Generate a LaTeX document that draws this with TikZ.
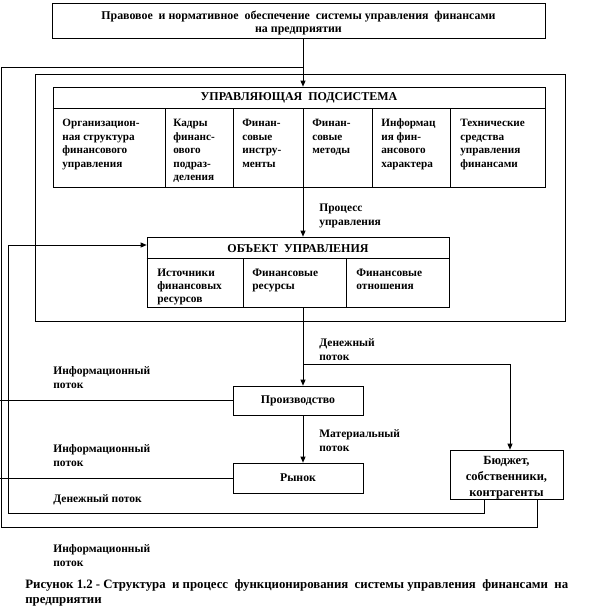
\documentclass[tikz,border=0pt]{standalone}
\usepackage{fontspec}
\setmainfont{Liberation Serif}
\usetikzlibrary{arrows.meta}
\begin{document}
\begin{tikzpicture}[x=1pt,y=-1pt,line width=0.7pt,
  txt/.style={font=\fontsize{11.2}{13.5}\selectfont\bfseries,inner sep=0pt,align=left,anchor=base west},
  otxt/.style={font=\fontsize{11.4}{13}\selectfont\bfseries,inner sep=0pt,align=left,anchor=base west},
  lbl/.style={font=\fontsize{11.5}{14.5}\selectfont\bfseries,inner sep=0pt,align=left,anchor=base west},
  box/.style={draw,inner sep=0pt,align=center,font=\fontsize{11.8}{13.5}\selectfont\bfseries},
  ctxt/.style={inner sep=0pt,align=center},
  head/.style={inner sep=0pt,font=\fontsize{12}{13.5}\selectfont\bfseries},
  frm/.style={draw,inner sep=0pt},
  arr/.style={-{Triangle[length=6pt,width=5pt]}}]
\fill[white] (0,0) rectangle (600,614);
\path[use as bounding box] (0,0) rectangle (600,614);
% helper coordinates
\coordinate (axis) at (303,0);
\coordinate (edge) at (0,0);
\coordinate (h1) at (0,108);
\coordinate (h2) at (0,258);
\coordinate (bx) at (510,0);
\coordinate (b1) at (484,0);
\coordinate (b2) at (537,0);
\coordinate (br) at (303,364);
\coordinate (i1) at (8,513);
\coordinate (i2) at (8,245);
\coordinate (o1) at (1,527);
\coordinate (o2) at (1,67);
% top box
\node[frm,minimum width=493pt,minimum height=35pt] (legal) at (298.5,20.5) {};
\node[ctxt,font=\fontsize{11.9}{13.5}\selectfont\bfseries] (legaltext) at (298.5,23)
  {Правовое\ \ и нормативное\ \ обеспечение\ \ системы управления\ \ финансами\\на предприятии};
% frame
\node[frm,minimum width=530pt,minimum height=247pt] (frame) at (300,197.5) {};
% subsystem
\node[frm,minimum width=492pt,minimum height=100pt] (sub) at (299,137) {};
\node[head] (subhead) at (299,98) {УПРАВЛЯЮЩАЯ\ \ ПОДСИСТЕМА};
\draw (sub.west |- h1) -- (sub.east |- h1);
\foreach \x in {165,233,303,372,450} \draw (\x,108) -- (\x,187);
\node[txt] (c1) at (62,167) {Организацион-\\ная структура\\финансового\\управления};
\node[txt] (c2) at (173,180.5) {Кадры\\финанс-\\ового\\подраз-\\деления};
\node[txt] (c3) at (242,167) {Финан-\\совые\\инстру-\\менты};
\node[txt] (c4) at (312,153.5) {Финан-\\совые\\методы};
\node[txt] (c5) at (381,167) {Информац\\ия фин-\\ансового\\характера};
\node[txt] (c6) at (460,167) {Технические\\средства\\управления\\финансами};
% object
\node[frm,minimum width=302pt,minimum height=70pt] (obj) at (298,272) {};
\node[head] (objhead) at (298,248.5) {ОБЪЕКТ\ \ УПРАВЛЕНИЯ};
\draw (obj.west |- h2) -- (obj.east |- h2);
\foreach \x in {243,346} \draw (\x,258) -- (\x,307);
\node[otxt] (o1t) at (157,302) {Источники\\финансовых\\ресурсов};
\node[otxt] (o2t) at (252,289) {Финансовые\\ресурсы};
\node[otxt] (o3t) at (356,289) {Финансовые\\отношения};
% lower boxes
\node[box,minimum width=130pt,minimum height=29pt] (prod) at (298,400.5) {Производство};
\node[box,minimum width=130pt,minimum height=30pt] (market) at (298,478) {Рынок};
\node[frm,minimum width=113pt,minimum height=49pt] (budget) at (506.5,474.5) {};
\node[ctxt,font=\fontsize{12.5}{16}\selectfont\bfseries] (budgettext) at (506.5,477.5) {Бюджет,\\собственники,\\контрагенты};
% connectors
\draw[arr] (legal.south -| axis) -- (sub.north -| axis);
\draw[arr] (sub.south -| axis) -- (obj.north -| axis);
\draw[arr] (obj.south -| axis) -- (prod.north -| axis);
\draw[arr] (br) -| (budget.north -| bx);
\draw[arr] (prod.south -| axis) -- (market.north -| axis);
\draw (prod.west) -- (prod.west -| edge);
\draw (market.west) -- (market.west -| edge);
\draw[arr] (budget.south -| b1) |- (i1) -- (i2) -- (obj.west |- i2);
\draw (budget.south -| b2) |- (o1) -- (o2) -- (o2 -| axis);
% labels
\node[lbl] (l1) at (319,225.5) {Процесс\\управления};
\node[lbl] (l2) at (319,360.5) {Денежный\\поток};
\node[lbl] (l3) at (319,451.5) {Материальный\\поток};
\node[lbl] (l4) at (53,388.5) {Информационный\\поток};
\node[lbl] (l5) at (53,466.5) {Информационный\\поток};
\node[lbl] (l6) at (53,502) {Денежный поток};
\node[lbl] (l7) at (53,566.5) {Информационный\\поток};
\node[lbl,font=\fontsize{12.8}{15}\selectfont\bfseries] (cap) at (25,603) {Рисунок 1.2 - Структура\ \ и процесс\ \ функционирования\ \ системы управления\ \ финансами\ \ на\\предприятии};
\end{tikzpicture}
\end{document}
